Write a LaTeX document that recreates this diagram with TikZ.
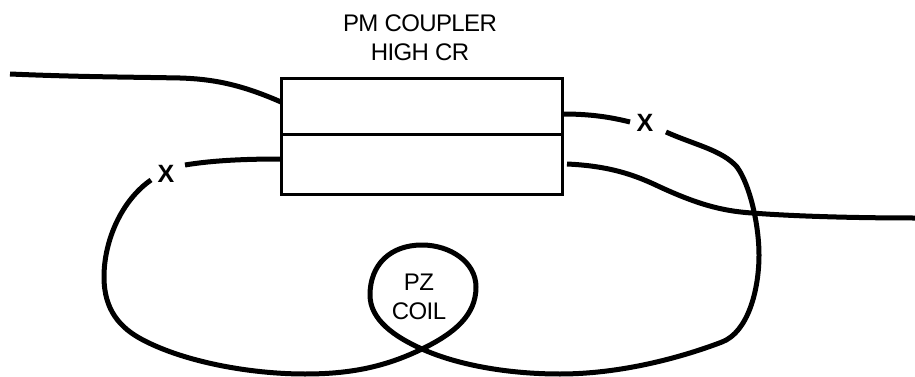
\documentclass[tikz,border=0pt]{standalone}
\usepackage{fontspec}
\setmainfont[LetterSpace=-2.5]{Liberation Sans}
\usetikzlibrary{positioning}
\tikzset{
  >=stealth,
  every node/.style={font=\fontsize{24}{29}\selectfont},
  % --- nodes
  coupler/.style = {draw=black, fill=white, line width=3pt, outer sep=0pt, minimum width=281pt},
  lbl/.style     = {align=center, inner sep=0pt},
  splice/.style  = {font=\fontsize{25}{25}\selectfont\bfseries, inner sep=0pt},
  % --- edges
  fiber/.style   = {line width=5pt, line join=round, draw=black},
}
\begin{document}
\begin{tikzpicture}[x=1pt,y=-1pt]
  \useasboundingbox (0,0) rectangle (915,377);
  \node[coupler, minimum height=55.5pt] (upper) at (422,106.75) {};
  \node[coupler, minimum height=59.5pt] (lower) at (422,164.25) {};
  \node[lbl] (title) at (420,38) {PM COUPLER\\HIGH CR};
  \node[lbl] (coil) at (419,297) {PZ\\COIL};
  \node[splice] (xleft) at (166,174) {X};
  \node[splice] (xright) at (645,123) {X};
  % fiber ends
  \coordinate (inA) at (10,74);
  \coordinate (portA) at (281,102);
  \coordinate (portB) at (281,159);
  \coordinate (portC) at (563,114);
  \coordinate (portD) at (567,164);
  \coordinate (outD) at (915,218);
  \coordinate (gapB) at (185,165);
  \coordinate (gapBb) at (151,180);
  \coordinate (gapC) at (630,122);
  \coordinate (gapCb) at (666,132);
  \coordinate (cross) at (422,349);
  \draw[fiber] (inA) .. controls (80,77) and (130,77) .. (180,78)
    .. controls (212,79) and (240,84) .. (portA);
  \draw[fiber] (portB) .. controls (250,159) and (215,160) .. (gapB);
  \draw[fiber] (portC) .. controls (590,114) and (610,117) .. (gapC);
  \draw[fiber] (portD) .. controls (610,166) and (635,175) .. (660,187)
    .. controls (695,203) and (720,211) .. (752,213)
    .. controls (790,216) and (850,218) .. (outD);
  % loop with the coil
  \draw[fiber] (gapBb) .. controls (122,200) and (104,240) .. (104,277)
    .. controls (104,310) and (120,328) .. (143,340)
    .. controls (185,362) and (250,374) .. (305,374)
    .. controls (350,374) and (385,367) .. (cross)
    .. controls (455,333) and (476,315) .. (476,287)
    .. controls (476,262) and (450,245) .. (422,245)
    .. controls (390,245) and (370,265) .. (370,295)
    .. controls (370,320) and (395,337) .. (cross)
    .. controls (455,364) and (505,374) .. (560,374)
    .. controls (620,374) and (680,358) .. (722,342)
    .. controls (748,332) and (759,290) .. (759,255)
    .. controls (759,225) and (750,185) .. (737,167)
    .. controls (722,150) and (695,145) .. (gapCb);
\end{tikzpicture}
\end{document}
